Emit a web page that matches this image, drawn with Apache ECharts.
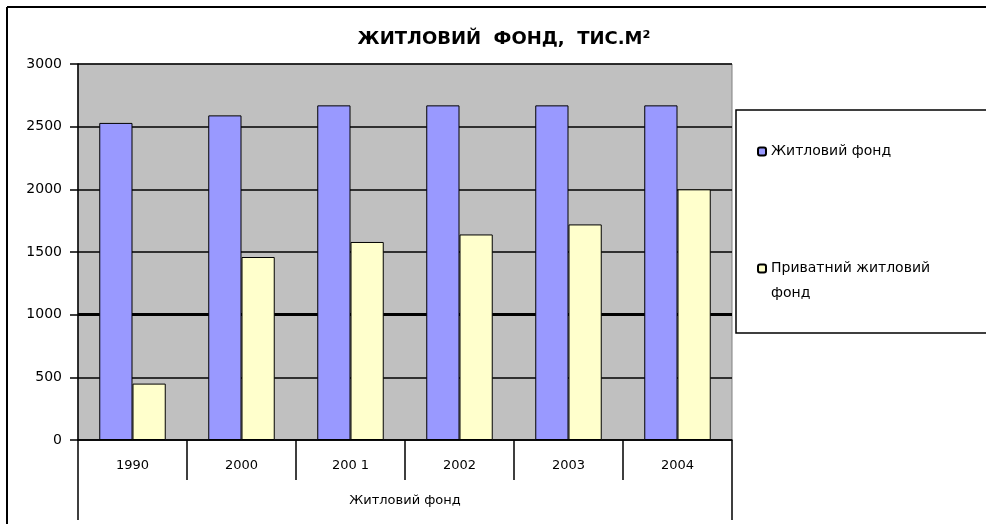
<!DOCTYPE html>
<html>
<head>
<meta charset="utf-8">
<title>Житловий фонд</title>
<script src="https://cdn.jsdelivr.net/npm/echarts@6/dist/echarts.min.js"></script>
<style>
  html, body { margin: 0; padding: 0; background: #fff; overflow: hidden; }
  #chart { width: 986px; height: 524px; }
</style>
</head>
<body>
<div id="chart"></div>
<script>
// дані з діаграми
var years = ["1990", "2000", "200 1", "2002", "2003", "2004"];
var totalFund = [2530, 2590, 2670, 2670, 2670, 2670];
var privateFund = [450, 1460, 1580, 1640, 1720, 2000];
var yTicks = { min: 0, max: 3000, step: 500 };
var groupName = ["Житловий фонд"];

var chart = echarts.init(document.getElementById("chart"));

var option = {
  animation: false,
  backgroundColor: "#fff",
  // рамка області діаграми (зверху і зліва)
  graphic: [{
    type: "line",
    shape: { x1: 7, y1: 7, x2: 1100, y2: 7 },
    style: { stroke: "#000", lineWidth: 2 },
    silent: true
  }, {
    type: "line",
    shape: { x1: 7, y1: 7, x2: 7, y2: 600 },
    style: { stroke: "#000", lineWidth: 2 },
    silent: true
  }],
  title: {
    text: "ЖИТЛОВИЙ  ФОНД,  ТИС.М²",
    left: 499,
    top: 25,
    textAlign: "center",
    textStyle: { fontFamily: "DejaVu Sans", fontSize: 18, fontWeight: "bold", color: "#000" }
  },
  legend: {
    orient: "vertical",
    left: 736,
    top: 110,
    padding: [29, 80, 27, 21],
    itemGap: 67,
    itemWidth: 8,
    itemHeight: 8,
    backgroundColor: "#fff",
    borderColor: "#000",
    borderWidth: 1.5,
    borderRadius: 0,
    textStyle: { fontFamily: "DejaVu Sans", fontSize: 14, color: "#000", lineHeight: 25 },
    formatter: function (name) {
      // порожній перший рядок, щоб значок стояв навпроти першого рядка тексту
      return name === "Приватний житловий фонд" ? "\nПриватний житловий\nфонд" : name;
    },
    data: ["Житловий фонд", "Приватний житловий фонд"],
    selectedMode: false
  },
  grid: {
    left: 78,
    right: 254,
    top: 64,
    bottom: 84,
    show: true,
    backgroundColor: "#c0c0c0",
    borderColor: "#808080",
    borderWidth: 1
  },
  xAxis: [{
    type: "category",
    position: "bottom",
    data: years,
    axisLine: { lineStyle: { color: "#000", width: 1.5 } },
    axisTick: { show: true, length: 40, lineStyle: { color: "#000", width: 1.5 } },
    axisLabel: { margin: 19, fontFamily: "DejaVu Sans", fontSize: 13, color: "#000" }
  }, {
    type: "category",
    position: "bottom",
    data: groupName,
    axisLine: { show: false },
    axisTick: { show: true, length: 80, lineStyle: { color: "#000", width: 1.5 } },
    axisLabel: { margin: 54, fontFamily: "DejaVu Sans", fontSize: 13, color: "#000" }
  }],
  yAxis: {
    type: "value",
    min: yTicks.min,
    max: yTicks.max,
    interval: yTicks.step,
    axisLine: { show: true, lineStyle: { color: "#000", width: 1.5 } },
    axisTick: { show: true, length: 8, lineStyle: { color: "#000", width: 1.5 } },
    axisLabel: {
      margin: 16, fontFamily: "DejaVu Sans", fontSize: 14, color: "#000",
      formatter: function (v) { return String(v); }
    },
    splitLine: { show: true, lineStyle: { color: "#000", width: 1.5 } }
  },
  series: [{
    name: "Житловий фонд",
    type: "bar",
    data: totalFund,
    barGap: "0%",
    barCategoryGap: "39%",
    itemStyle: { color: "#9999ff", borderColor: "#000", borderWidth: 1 },
    markLine: {
      silent: true,
      symbol: "none",
      z: 1,
      label: { show: false },
      lineStyle: { color: "#000", width: 3, type: "solid" },
      data: [{ yAxis: 1000 }]
    }
  }, {
    name: "Приватний житловий фонд",
    type: "bar",
    data: privateFund,
    itemStyle: { color: "#ffffcc", borderColor: "#000", borderWidth: 1 }
  }]
};

chart.setOption(option);
</script>
</body>
</html>
